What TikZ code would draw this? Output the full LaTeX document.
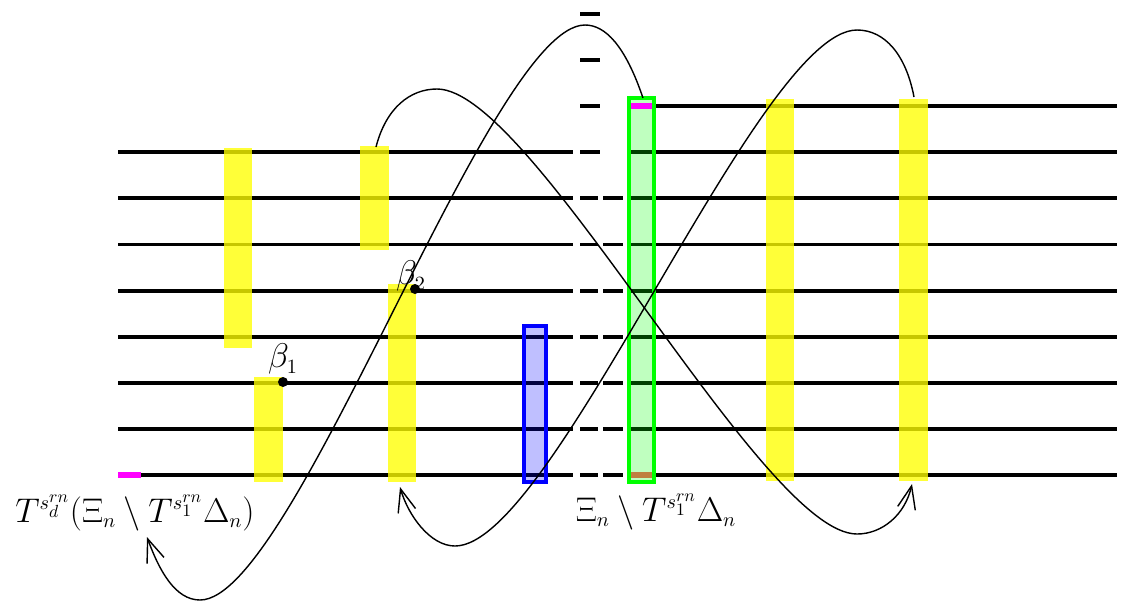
\documentclass[tikz,border=0pt]{standalone}
\usepackage{fix-cm}
\usetikzlibrary{arrows.meta}
\DeclareMathSizes{19.5}{19.5}{11.5}{10}
\definecolor{brk}{RGB}{191,128,64}
\definecolor{mag}{RGB}{255,0,255}
\definecolor{yel}{RGB}{255,255,0}
\definecolor{grn}{RGB}{0,255,0}
\definecolor{blu}{RGB}{0,0,255}
\tikzset{
  strand/.style={line width=2.2pt},
  ybox/.style={fill=yel, fill opacity=0.78},
  jump/.style={line width=0.8pt, -{Straight Barb[length=4.6mm, width=3.6mm]}},
  lbl/.style={font=\fontsize{19.5}{23}\selectfont},
  dot/.style={circle, fill, inner sep=0pt, minimum size=2mm}
}
\begin{document}
\begin{tikzpicture}[x=0.02cm, y=-0.02cm]
\useasboundingbox (0,0) rectangle (1121,603);
\foreach \i in {0,...,6} {
  \pgfmathsetmacro\ry{475-46.1*\i}
  \draw[strand] (118,\ry) -- (573,\ry) (580,\ry) -- (598,\ry)
    (603,\ry) -- (623,\ry) (629,\ry) -- (1117,\ry);
}
\draw[strand] (118,152.3) -- (573,152.3) (580,152.3) -- (600,152.3)
  (629,152.3) -- (1117,152.3);
\draw[strand] (629,106.2) -- (1117,106.2);
\foreach \ry in {106.2, 60.1, 14}
  \draw[strand] (580,\ry) -- (600,\ry);
\foreach \xa/\ya/\xb/\yb in {224/148/252/348, 254/377/283/482,
  360/146/389/250, 388/284/416/482, 766/99/794/481, 899/99/928/481}
  \fill[ybox] (\xa,\ya) rectangle (\xb,\yb);
\draw[line width=2.2pt, blu, fill=blu, fill opacity=0.25]
  (524,326) rectangle (546,482);
\draw[line width=2.2pt, grn, fill=grn, fill opacity=0.25]
  (629,98) rectangle (654,482);
\draw[line width=3.4pt, mag] (118,475) -- (141,475);
\draw[line width=3.4pt, mag] (631,106) -- (652,106);
\draw[line width=3.4pt, brk] (631,475) -- (652,475);
\node[dot, label={[lbl, inner sep=1pt]above:$\beta_1$}] (b1) at (283,382) {};
\node[dot, label={[lbl, inner sep=1pt, xshift=-0.08cm, yshift=-0.2cm]above:$\beta_2$}]
  (b2) at (415,289) {};
\node[lbl, anchor=base] (lhs) at (135,522)
  {$T^{s_d^{rn}}(\Xi_n \setminus T^{s_1^{rn}}\Delta_n)$};
\node[lbl, anchor=base] (rhs) at (656,521)
  {$\Xi_n \setminus T^{s_1^{rn}}\Delta_n$};
\coordinate (gtop) at (643,98);
\coordinate (ythree) at (376,147);
\coordinate (ysix) at (914,97);
\coordinate (yfour) at (400,487);
\coordinate (ysixfoot) at (912,484);
\coordinate (lhsfoot) at (147,537);
\draw[jump] (gtop) .. controls (625,45) and (605,25) .. (585,25)
  .. controls (490,25) and (295,600) .. (200,600)
  .. controls (175,600) and (159,570) .. (lhsfoot);
\draw[jump] (ysix) .. controls (906,55) and (885,30) .. (857,30)
  .. controls (758,30) and (554,546) .. (455,546)
  .. controls (430,546) and (408,515) .. (yfour);
\draw[jump] (ythree) .. controls (386,108) and (410,89) .. (437,89)
  .. controls (533,89) and (761,534) .. (857,534)
  .. controls (882,534) and (905,515) .. (ysixfoot);
\end{tikzpicture}
\end{document}
